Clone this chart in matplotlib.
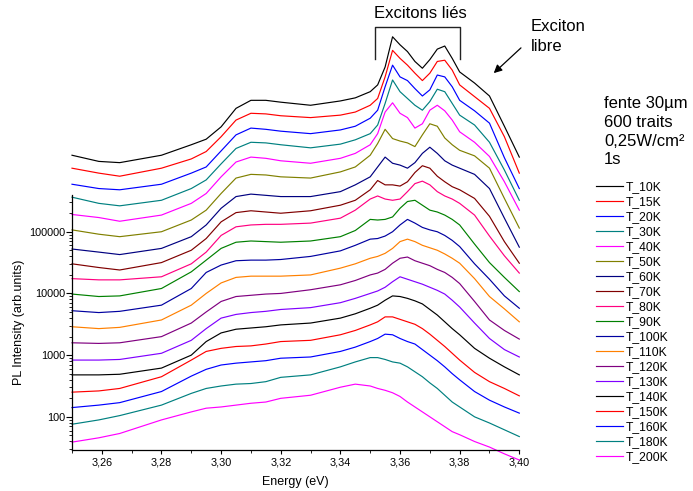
import numpy as np
import matplotlib
matplotlib.use('Agg')
import matplotlib.pyplot as plt
from matplotlib.ticker import LogLocator, FuncFormatter, MultipleLocator

plt.rcParams['font.family'] = ['Liberation Sans', 'DejaVu Sans']

# energy grid (eV) and log10 of the PL intensity
energy = [3.250, 3.259, 3.266, 3.280, 3.290, 3.295, 3.300, 3.305, 3.310, 3.315,
          3.320, 3.330, 3.340, 3.345, 3.350, 3.3525, 3.355, 3.3575, 3.360, 3.3625,
          3.365, 3.3675, 3.370, 3.3725, 3.375, 3.3775, 3.380, 3.385, 3.390, 3.395, 3.400]

log_t10 = [6.24, 6.14, 6.12, 6.24, 6.41, 6.50, 6.70, 7.00, 7.13, 7.13, 7.10, 7.05, 7.12, 7.17, 7.27, 7.38,
           7.67, 8.16, 8.03, 7.92, 7.76, 7.65, 7.79, 7.96, 8.01, 7.81, 7.59, 7.41, 7.20, 6.71, 6.21]
log_t15 = [6.03, 5.95, 5.90, 6.03, 6.18, 6.30, 6.54, 6.81, 6.92, 6.91, 6.88, 6.85, 6.89, 6.94, 7.05, 7.16,
           7.51, 7.94, 7.81, 7.70, 7.57, 7.45, 7.57, 7.76, 7.78, 7.62, 7.38, 7.19, 7.00, 6.54, 5.95]
log_t20 = [5.77, 5.70, 5.68, 5.77, 5.95, 6.05, 6.31, 6.57, 6.68, 6.66, 6.63, 6.59, 6.65, 6.71, 6.84, 6.97,
           7.35, 7.70, 7.51, 7.45, 7.32, 7.20, 7.30, 7.54, 7.51, 7.35, 7.13, 6.96, 6.76, 6.20, 5.70]
log_t30 = [5.56, 5.46, 5.42, 5.51, 5.70, 5.84, 6.10, 6.35, 6.45, 6.44, 6.41, 6.36, 6.42, 6.49, 6.59, 6.73,
           7.08, 7.46, 7.27, 7.16, 7.05, 6.97, 7.11, 7.31, 7.27, 7.08, 6.89, 6.73, 6.45, 6.00, 5.51]
log_t40 = [5.28, 5.23, 5.17, 5.27, 5.46, 5.62, 5.89, 6.13, 6.21, 6.19, 6.15, 6.11, 6.19, 6.27, 6.41, 6.59,
           6.94, 7.09, 6.92, 6.85, 6.68, 6.75, 6.97, 7.05, 6.96, 6.81, 6.62, 6.45, 6.22, 5.81, 5.35]
log_t50 = [5.03, 4.96, 4.92, 5.00, 5.19, 5.35, 5.62, 5.87, 5.93, 5.92, 5.89, 5.87, 5.97, 6.05, 6.24, 6.43,
           6.66, 6.51, 6.47, 6.44, 6.38, 6.57, 6.75, 6.71, 6.52, 6.41, 6.32, 6.23, 6.03, 5.54, 5.06]
log_t60 = [4.72, 4.67, 4.63, 4.73, 4.92, 5.11, 5.38, 5.57, 5.61, 5.59, 5.57, 5.57, 5.65, 5.76, 5.89, 6.05,
           6.21, 6.11, 6.08, 6.03, 6.12, 6.27, 6.37, 6.27, 6.15, 6.08, 6.03, 5.93, 5.70, 5.22, 4.75]
log_t70 = [4.48, 4.42, 4.38, 4.50, 4.70, 4.89, 5.16, 5.31, 5.34, 5.32, 5.30, 5.34, 5.43, 5.51, 5.68, 5.83,
           5.76, 5.76, 5.74, 5.81, 5.96, 6.07, 6.03, 5.90, 5.81, 5.73, 5.68, 5.54, 5.25, 4.84, 4.49]
log_t80 = [4.24, 4.22, 4.22, 4.27, 4.48, 4.67, 4.94, 5.08, 5.11, 5.12, 5.12, 5.14, 5.22, 5.35, 5.53, 5.58,
           5.53, 5.51, 5.53, 5.65, 5.78, 5.82, 5.76, 5.65, 5.58, 5.53, 5.46, 5.27, 4.93, 4.61, 4.33]
log_t90 = [3.99, 3.95, 3.96, 4.08, 4.35, 4.54, 4.73, 4.83, 4.85, 4.84, 4.83, 4.85, 4.92, 5.02, 5.20, 5.19,
           5.20, 5.24, 5.38, 5.49, 5.51, 5.43, 5.35, 5.32, 5.27, 5.20, 5.11, 4.80, 4.50, 4.26, 4.03]
log_t100 = [3.72, 3.69, 3.71, 3.81, 4.08, 4.34, 4.46, 4.53, 4.54, 4.54, 4.55, 4.60, 4.69, 4.78, 4.88, 4.89,
            4.93, 5.00, 5.11, 5.20, 5.14, 5.07, 5.03, 5.00, 4.94, 4.86, 4.76, 4.48, 4.23, 3.96, 3.76]
log_t110 = [3.46, 3.43, 3.45, 3.57, 3.81, 4.00, 4.17, 4.26, 4.28, 4.28, 4.28, 4.30, 4.41, 4.48, 4.57, 4.60,
            4.65, 4.73, 4.84, 4.88, 4.84, 4.78, 4.74, 4.70, 4.64, 4.57, 4.49, 4.24, 3.95, 3.75, 3.54]
log_t120 = [3.20, 3.19, 3.20, 3.30, 3.52, 3.70, 3.87, 3.95, 3.97, 3.99, 4.00, 4.06, 4.14, 4.21, 4.30, 4.33,
            4.39, 4.49, 4.57, 4.59, 4.53, 4.49, 4.45, 4.39, 4.34, 4.26, 4.16, 3.87, 3.57, 3.40, 3.26]
log_t130 = [2.92, 2.92, 2.93, 3.03, 3.24, 3.43, 3.60, 3.66, 3.69, 3.71, 3.74, 3.77, 3.85, 3.92, 4.00, 4.04,
            4.10, 4.19, 4.27, 4.23, 4.19, 4.15, 4.10, 4.05, 3.99, 3.89, 3.78, 3.52, 3.27, 3.09, 2.97]
log_t140 = [2.68, 2.68, 2.69, 2.79, 3.00, 3.22, 3.36, 3.42, 3.44, 3.46, 3.49, 3.52, 3.60, 3.67, 3.76, 3.81,
            3.89, 3.96, 3.95, 3.92, 3.88, 3.83, 3.74, 3.65, 3.54, 3.43, 3.33, 3.11, 2.95, 2.81, 2.68]
log_t150 = [2.40, 2.42, 2.46, 2.65, 2.92, 3.06, 3.11, 3.14, 3.15, 3.18, 3.22, 3.24, 3.33, 3.40, 3.49, 3.54,
            3.62, 3.62, 3.58, 3.54, 3.50, 3.43, 3.34, 3.24, 3.14, 3.03, 2.92, 2.72, 2.57, 2.46, 2.34]
log_t160 = [2.15, 2.19, 2.23, 2.41, 2.66, 2.77, 2.84, 2.87, 2.89, 2.91, 2.95, 2.97, 3.06, 3.13, 3.22, 3.27,
            3.34, 3.33, 3.27, 3.22, 3.18, 3.09, 3.00, 2.91, 2.81, 2.70, 2.60, 2.41, 2.27, 2.16, 2.06]
log_t180 = [1.88, 1.95, 2.02, 2.19, 2.38, 2.46, 2.50, 2.53, 2.54, 2.57, 2.64, 2.68, 2.81, 2.89, 2.96, 2.96,
            2.93, 2.89, 2.87, 2.81, 2.73, 2.65, 2.55, 2.46, 2.35, 2.24, 2.16, 2.00, 1.90, 1.79, 1.68]
log_t200 = [1.59, 1.66, 1.73, 1.95, 2.08, 2.14, 2.16, 2.19, 2.22, 2.24, 2.30, 2.35, 2.48, 2.53, 2.50, 2.46,
            2.43, 2.39, 2.33, 2.24, 2.16, 2.08, 2.00, 1.92, 1.84, 1.76, 1.71, 1.60, 1.51, 1.40, 1.30]

labels = ['T_10K', 'T_15K', 'T_20K', 'T_30K', 'T_40K', 'T_50K', 'T_60K', 'T_70K', 'T_80K', 'T_90K',
          'T_100K', 'T_110K', 'T_120K', 'T_130K', 'T_140K', 'T_150K', 'T_160K', 'T_180K', 'T_200K']
series = [log_t10, log_t15, log_t20, log_t30, log_t40, log_t50, log_t60, log_t70, log_t80, log_t90,
          log_t100, log_t110, log_t120, log_t130, log_t140, log_t150, log_t160, log_t180, log_t200]
colors = ['#000000', '#FF0000', '#0000FF', '#008080', '#FF00FF', '#808000', '#000080', '#800000',
          '#FF0080', '#008000', '#0000A0', '#FF8000', '#800080', '#8000FF', '#000000', '#FF0000',
          '#0000FF', '#008080', '#FF00FF']

W, H = 693, 491
fig = plt.figure(figsize=(W / 100, H / 100), dpi=100)
ax = fig.add_axes([72 / W, (H - 450) / H, (519.3 - 72) / W, (450 - 195) / H])

for lab, vals, c in zip(labels, series, colors):
    ax.plot(energy, 10 ** np.array(vals), color=c, lw=0.85, label=lab, clip_on=False)

ax.set_yscale('log')
ax.set_xlim(3.25, 3.40)
ax.set_ylim(29, 3.94e5)
ax.spines['top'].set_visible(False)
ax.spines['right'].set_visible(False)
ax.spines['left'].set_linewidth(0.9)
ax.spines['bottom'].set_linewidth(0.9)

ax.xaxis.set_minor_locator(MultipleLocator(0.01))
ax.set_xticks([3.26, 3.28, 3.30, 3.32, 3.34, 3.36, 3.38, 3.40])
ax.xaxis.set_major_formatter(FuncFormatter(lambda v, p: f'{v:.2f}'.replace('.', ',')))
ax.yaxis.set_major_locator(LogLocator(base=10, numticks=10))
ax.yaxis.set_minor_locator(LogLocator(base=10, subs=np.arange(2, 10), numticks=20))
ax.yaxis.set_major_formatter(FuncFormatter(lambda v, p: f'{int(round(v))}'))
ax.yaxis.set_minor_formatter(FuncFormatter(lambda v, p: ''))
ax.tick_params(axis='y', which='major', length=4, width=0.8, labelsize=7.8, pad=0.5)
ax.tick_params(axis='x', which='major', length=3, width=0.8, labelsize=7.8, pad=2.5)
ax.tick_params(which='minor', length=2, width=0.6)

ax.set_xlabel('Energy (eV)', fontsize=9, labelpad=6)
ax.set_ylabel('PL Intensity (arb.units)', fontsize=9, labelpad=3)

leg = ax.legend(loc='upper left', bbox_to_anchor=(596 / W, (H - 181) / H),
                bbox_transform=fig.transFigure, frameon=False, fontsize=8.7,
                handlelength=2.25, handletextpad=0.25, labelspacing=0.25,
                borderpad=0, borderaxespad=0)

# annotations
fp = 'figure pixels'
bx = [374.5, 374.5, 460, 460]
by = [H - 59, H - 26.5, H - 26.5, H - 59]
fig.add_artist(plt.Line2D([x / W for x in bx], [y / H for y in by], color='#222222', lw=1.0))
fig.text(420 / W, (H - 13) / H, 'Excitons liés', ha='center', va='center', fontsize=12)
fig.text(531 / W, (H - 26.7) / H, 'Exciton', ha='left', va='center', fontsize=12)
fig.text(531 / W, (H - 46.7) / H, 'libre', ha='left', va='center', fontsize=12)
ax.annotate('', xy=(491.7, H - 75), xycoords=fp, xytext=(523, H - 46), textcoords=fp,
            arrowprops=dict(arrowstyle='-|>', color='black', lw=0.9, mutation_scale=12))

for txt, yy in zip(['fente 30µm', '600 traits', '0,25W/cm²', '1s'], [103.3, 122.3, 141.7, 160]):
    fig.text(604 / W, (H - yy) / H, txt, ha='left', va='center', fontsize=12)

fig.savefig('out.png', dpi=100)
